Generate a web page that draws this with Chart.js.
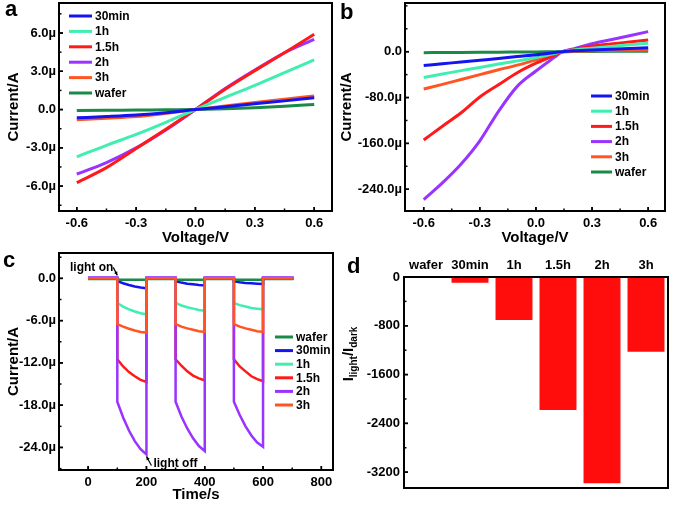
<!DOCTYPE html>
<html>
<head>
<meta charset="utf-8">
<script src="https://cdn.jsdelivr.net/npm/chart.js@4.4.1/dist/chart.umd.min.js"></script>
<style>
  body { margin: 0; background: #fff; width: 675px; height: 505px; position: relative; overflow: hidden;
         font-family: "Liberation Sans", Arial, sans-serif; }
  canvas { position: absolute; }
  .tag { position: absolute; font-weight: bold; font-size: 22px; line-height: 22px; }
</style>
</head>
<body>
<canvas id="chartA" width="340" height="250" style="left:0;top:0"></canvas>
<canvas id="chartB" width="338" height="250" style="left:337px;top:0"></canvas>
<canvas id="chartC" width="340" height="255" style="left:0;top:250px"></canvas>
<canvas id="chartD" width="338" height="255" style="left:337px;top:250px"></canvas>
<div class="tag" style="left:5px;top:-2px">a</div>
<div class="tag" style="left:340px;top:1px">b</div>
<div class="tag" style="left:3px;top:249px">c</div>
<div class="tag" style="left:347px;top:255px">d</div>
<script>
// ---- panel a: I-V curves (µA) ----
const voltsA = [-0.6, -0.45, -0.3, -0.15, 0, 0.15, 0.3, 0.45, 0.6];
const a30min = [-0.65, -0.55, -0.43, -0.25, 0, 0.22, 0.45, 0.68, 0.92];
const a1h    = [-3.7, -2.8, -1.95, -1.0, 0, 0.95, 1.9, 2.9, 3.9];
const a15h   = [-5.73, -4.55, -3.05, -1.55, 0, 1.6, 3.05, 4.45, 5.9];
const a2h    = [-5.05, -4.15, -3.0, -1.6, 0, 1.65, 3.1, 4.45, 5.5];
const a3h    = [-0.8, -0.68, -0.55, -0.3, 0, 0.27, 0.55, 0.8, 1.07];
const aWafer = [-0.08, -0.06, -0.04, -0.02, 0, 0.06, 0.15, 0.26, 0.4];

// ---- panel b: I-V curves (µA) ----
const voltsB = [-0.6, -0.5, -0.4, -0.3, -0.2, -0.1, 0, 0.1, 0.14, 0.2, 0.3, 0.4, 0.5, 0.6];
const b30min = [-24, -21, -18, -15, -12, -8.5, -5.5, -1.5, 0, 1.5, 3, 4.5, 5.8, 7];
const b1h    = [-45, -39, -33, -27.5, -21.5, -16, -10, -3, 0, 3, 6, 9, 12, 14.7];
const b15h   = [-154, -130, -106.6, -79, -57.6, -36.7, -20, -6, 0, 4, 9.5, 13.5, 17, 20.5];
const b2h    = [-258, -229, -196, -155.5, -104, -60.5, -33.7, -9.5, 0, 5, 14, 21, 28, 35];
const b3h    = [-65, -57, -48.5, -40, -31.5, -23.5, -14, -4.5, 0, 1, 1.6, 2.2, 2.6, 3];
const bWafer = [-1.7, -1.5, -1.3, -1.1, -0.9, -0.6, -0.3, -0.1, 0, 0.2, 0.4, 0.6, 0.8, 1];

// ---- panel c: photo-response vs time (µA) ----
const timesC = [0, 100, 100, 120, 140, 160, 180, 200, 200, 300, 300, 320, 340, 360, 380, 400, 400,
                500, 500, 520, 540, 560, 580, 600, 600, 705];
const cWafer = [-0.1, -0.1, -0.2, -0.2, -0.2, -0.2, -0.2, -0.2, -0.1, -0.1, -0.2, -0.2, -0.2, -0.2, -0.2, -0.2, -0.1,
                -0.1, -0.2, -0.2, -0.2, -0.2, -0.2, -0.2, -0.1, -0.1];
const c30min = [0.05, 0.05, -0.4, -0.7, -0.95, -1.15, -1.3, -1.4, 0.05, 0.05, -0.4, -0.6, -0.75, -0.85, -0.95, -1.0, 0.05,
                0.05, -0.4, -0.55, -0.65, -0.7, -0.75, -0.8, 0.05, 0.05];
const c1h    = [0, 0, -3.5, -4.0, -4.4, -4.7, -4.95, -5.1, 0, 0, -3.5, -3.85, -4.1, -4.3, -4.5, -4.6, 0,
                0, -3.5, -3.8, -4.0, -4.2, -4.3, -4.4, 0, 0];
const c15h   = [0, 0, -11.5, -12.5, -13.3, -13.9, -14.4, -14.7, 0, 0, -11.5, -12.4, -13.2, -13.8, -14.2, -14.5, 0,
                0, -11.5, -12.5, -13.2, -13.9, -14.3, -14.6, 0, 0];
const c2h    = [0.12, 0.12, -17.5, -19.75, -21.6, -23.1, -24.25, -25.0, 0.12, 0.12, -17.5, -19.6, -21.3, -22.7, -23.8, -24.5, 0.12,
                0.12, -17.5, -19.4, -21.0, -22.3, -23.3, -23.9, 0.12, 0.12];
const c3h    = [0, 0, -6.5, -6.85, -7.15, -7.4, -7.6, -7.7, 0, 0, -6.5, -6.85, -7.1, -7.3, -7.5, -7.6, 0,
                0, -6.5, -6.85, -7.1, -7.3, -7.5, -7.6, 0, 0];

// ---- panel d: I_light / I_dark ----
const barLabels = ['wafer', '30min', '1h', '1.5h', '2h', '3h'];
const barValues = [-15, -93, -705, -2180, -3382, -1224];
const barTicks = [0, -800, -1600, -2400, -3200];

const COLORS = {
  '30min': '#1414f0', '1h': '#40eeb0', '1.5h': '#ff1a1a',
  '2h': '#9933ff', '3h': '#ff5522', 'wafer': '#1a8a48'
};

Chart.defaults.font.family = '"Liberation Sans", Arial, sans-serif';
Chart.defaults.color = '#000';
const tickFont = { size: 13, weight: 'bold' };
const titleFont = { size: 15, weight: 'bold' };
const microLabel = v => (Math.abs(v) < 1e-9 ? '0.0' : v.toFixed(1) + 'µ');

function lineSets(xs, pairs, width, curved) {
  return pairs.map(([name, ys]) => ({
    label: name,
    data: xs.map((x, i) => ({ x: x, y: ys[i] })),
    borderColor: COLORS[name],
    borderWidth: width,
    pointRadius: 0,
    tension: curved ? 0.4 : 0,
    cubicInterpolationMode: curved ? 'monotone' : 'default'
  }));
}

function fixSize(w, h) {
  return s => {
    if (w != null) s.width = w;
    if (h != null) s.height = h;
    s.paddingTop = 0; s.paddingBottom = 0; s.paddingLeft = 0; s.paddingRight = 0;
  };
}

function stepsIn(scale, step) {
  const out = [];
  for (let k = Math.ceil(scale.min / step - 1e-9); k * step <= scale.max + 1e-9; k++) out.push(k * step);
  return out;
}

// frame box, inward ticks, legend and any extra drawing
function makeBox(opt) {
  return {
    id: 'box',
    afterDraw(chart) {
      const { ctx, chartArea: a, scales } = chart;
      ctx.save();
      ctx.strokeStyle = '#000';
      ctx.lineWidth = 2;
      ctx.strokeRect(a.left, a.top, a.right - a.left, a.bottom - a.top);
      ctx.lineWidth = 1.5;
      const marks = (scale, step, horiz) => {
        const majors = scale.ticks.map(t => t.value);
        const vals = step ? stepsIn(scale, step) : [];
        majors.concat(vals).forEach(v => {
          const isMajor = majors.some(m => Math.abs(m - v) < 1e-9);
          const len = isMajor ? 4 : 2.5;
          const p = scale.getPixelForValue(v);
          ctx.beginPath();
          if (horiz) { ctx.moveTo(p, a.bottom); ctx.lineTo(p, a.bottom - len); }
          else { ctx.moveTo(a.left, p); ctx.lineTo(a.left + len, p); }
          ctx.stroke();
        });
      };
      if (opt.xMinor) marks(scales.x, opt.xMinor, true);
      if (opt.yMinor) marks(scales.y, opt.yMinor, false);

      if (opt.legend) {
        const L = opt.legend;
        ctx.font = 'bold 12px "Liberation Sans", Arial, sans-serif';
        ctx.textBaseline = 'middle';
        ctx.textAlign = 'left';
        L.order.forEach((name, i) => {
          const y = L.y + i * L.dy;
          ctx.strokeStyle = COLORS[name];
          ctx.lineWidth = 3;
          ctx.beginPath();
          ctx.moveTo(L.x, y);
          ctx.lineTo(L.x + L.len, y);
          ctx.stroke();
          ctx.fillStyle = '#000';
          ctx.fillText(name, L.x + L.len + 3, y + 0.5);
        });
      }
      if (opt.extra) opt.extra(chart, ctx);
      ctx.restore();
    }
  };
}

function arrow(ctx, x1, y1, x2, y2) {
  const ang = Math.atan2(y2 - y1, x2 - x1);
  ctx.strokeStyle = '#000';
  ctx.fillStyle = '#000';
  ctx.lineWidth = 1.2;
  ctx.beginPath(); ctx.moveTo(x1, y1); ctx.lineTo(x2, y2); ctx.stroke();
  ctx.beginPath();
  ctx.moveTo(x2, y2);
  ctx.lineTo(x2 - 4 * Math.cos(ang - 0.45), y2 - 4 * Math.sin(ang - 0.45));
  ctx.lineTo(x2 - 4 * Math.cos(ang + 0.45), y2 - 4 * Math.sin(ang + 0.45));
  ctx.closePath(); ctx.fill();
}

function ivOptions(cfg) {
  return {
    responsive: false,
    animation: false,
    layout: { padding: cfg.padding },
    plugins: { legend: { display: false }, tooltip: { enabled: false } },
    scales: {
      x: {
        type: 'linear', min: cfg.xMin, max: cfg.xMax,
        grid: { display: false, drawTicks: false }, border: { display: false },
        ticks: { stepSize: cfg.xStep, includeBounds: false, padding: 5, font: tickFont, callback: cfg.xFmt },
        title: { display: true, text: cfg.xTitle, font: titleFont, padding: { top: 0, bottom: cfg.xTitlePad } },
        afterFit: fixSize(null, cfg.xH)
      },
      y: {
        type: 'linear', min: cfg.yMin, max: cfg.yMax,
        grid: { display: false, drawTicks: false }, border: { display: false },
        ticks: { stepSize: cfg.yStep, includeBounds: false, padding: 3, font: tickFont, callback: microLabel },
        title: { display: true, text: 'Current/A', font: titleFont, padding: { top: cfg.yTitlePad, bottom: 0 } },
        afterBuildTicks: cfg.yFilter,
        afterFit: fixSize(cfg.yW, null)
      }
    }
  };
}

const legendOrderIV = ['30min', '1h', '1.5h', '2h', '3h', 'wafer'];

// panel a
new Chart(document.getElementById('chartA'), {
  type: 'line',
  data: { datasets: lineSets(voltsA, [['30min', a30min], ['1h', a1h], ['1.5h', a15h], ['2h', a2h], ['3h', a3h], ['wafer', aWafer]], 3, true) },
  options: ivOptions({
    padding: { top: 3, right: 8, left: 0, bottom: 0 },
    xMin: -0.69, xMax: 0.69, xStep: 0.3, xFmt: v => v.toFixed(1), xTitle: 'Voltage/V', xTitlePad: 3, xH: 39,
    yMin: -7.95, yMax: 8.35, yStep: 3, yTitlePad: 5, yW: 59
  }),
  plugins: [makeBox({ xMinor: 0.15, yMinor: 1.5, legend: { x: 69, y: 16, dy: 15.4, len: 23, order: legendOrderIV } })]
});

// panel b
new Chart(document.getElementById('chartB'), {
  type: 'line',
  data: { datasets: lineSets(voltsB, [['30min', b30min], ['1h', b1h], ['1.5h', b15h], ['2h', b2h], ['3h', b3h], ['wafer', bWafer]], 3, true) },
  options: ivOptions({
    padding: { top: 3, right: 10, left: 0, bottom: 0 },
    xMin: -0.7, xMax: 0.69, xStep: 0.3, xFmt: v => v.toFixed(1), xTitle: 'Voltage/V', xTitlePad: 3, xH: 39,
    yMin: -278, yMax: 85, yStep: 80, yTitlePad: 1, yW: 68,
    yFilter: s => { s.ticks = s.ticks.filter(t => t.value <= 0); }
  }),
  plugins: [makeBox({ xMinor: 0.15, yMinor: 40, legend: { x: 254, y: 96, dy: 15.2, len: 21, order: legendOrderIV } })]
});

// panel c (3h drawn on top, then 2h)
new Chart(document.getElementById('chartC'), {
  type: 'line',
  data: { datasets: lineSets(timesC, [['3h', c3h], ['2h', c2h], ['wafer', cWafer], ['30min', c30min], ['1h', c1h], ['1.5h', c15h]], 2.5, false) },
  options: ivOptions({
    padding: { top: 3, right: 7, left: 0, bottom: 0 },
    xMin: -100, xMax: 840, xStep: 200, xFmt: v => String(v), xTitle: 'Time/s', xTitlePad: 1, xH: 35,
    yMin: -27.2, yMax: 3.6, yStep: 6, yTitlePad: 5, yW: 59
  }),
  plugins: [makeBox({
    xMinor: 100, yMinor: 3,
    legend: { x: 275, y: 87, dy: 13.6, len: 18, order: ['wafer', '30min', '1h', '1.5h', '2h', '3h'] },
    extra(chart, ctx) {
      const xs = chart.scales.x, ys = chart.scales.y;
      ctx.font = 'bold 12px "Liberation Sans", Arial, sans-serif';
      ctx.fillStyle = '#000';
      ctx.textBaseline = 'middle';
      const onX = xs.getPixelForValue(100), onY = ys.getPixelForValue(0);
      ctx.textAlign = 'right';
      ctx.fillText('light on', onX - 4, onY - 11);
      arrow(ctx, onX - 4, onY - 11, onX, onY - 3);
      const offX = xs.getPixelForValue(200), offY = ys.getPixelForValue(-25);
      ctx.textAlign = 'left';
      ctx.fillStyle = '#000';
      ctx.fillText('light off', offX + 7, offY + 9);
      arrow(ctx, offX + 5, offY + 11, offX, offY + 2);
    }
  })]
});

// panel d
new Chart(document.getElementById('chartD'), {
  type: 'bar',
  data: {
    labels: barLabels,
    datasets: [{ data: barValues, backgroundColor: '#ff0d0d', borderWidth: 0, barPercentage: 0.84, categoryPercentage: 1 }]
  },
  options: {
    responsive: false,
    animation: false,
    layout: { padding: { top: 0, right: 7, left: 0, bottom: 17 } },
    plugins: { legend: { display: false }, tooltip: { enabled: false } },
    scales: {
      x: {
        position: 'top',
        grid: { display: false, drawTicks: false }, border: { display: false },
        ticks: { padding: 4, font: tickFont },
        afterFit: fixSize(null, 27)
      },
      y: {
        type: 'linear', min: -3460, max: 0,
        grid: { display: false, drawTicks: false }, border: { display: false },
        ticks: { padding: 4, font: tickFont, callback: v => String(v) },
        afterBuildTicks: s => { s.ticks = barTicks.map(v => ({ value: v })); },
        afterFit: fixSize(67, null)
      }
    }
  },
  plugins: [makeBox({
    yMinor: 400,
    extra(chart, ctx) {
      // y title with subscripts: I_light / I_dark
      const parts = [['I', 15, 0], ['light', 10, 5], ['/I', 15, 0], ['dark', 10, 5]];
      let total = 0;
      parts.forEach(p => { ctx.font = 'bold ' + p[1] + 'px "Liberation Sans", Arial, sans-serif'; total += ctx.measureText(p[0]).width; });
      ctx.translate(12, 104);
      ctx.rotate(-Math.PI / 2);
      ctx.fillStyle = '#000';
      ctx.textBaseline = 'middle';
      ctx.textAlign = 'left';
      let x = -total / 2;
      parts.forEach(p => {
        ctx.font = 'bold ' + p[1] + 'px "Liberation Sans", Arial, sans-serif';
        ctx.fillText(p[0], x, p[2]);
        x += ctx.measureText(p[0]).width;
      });
    }
  })]
});
</script>
</body>
</html>
